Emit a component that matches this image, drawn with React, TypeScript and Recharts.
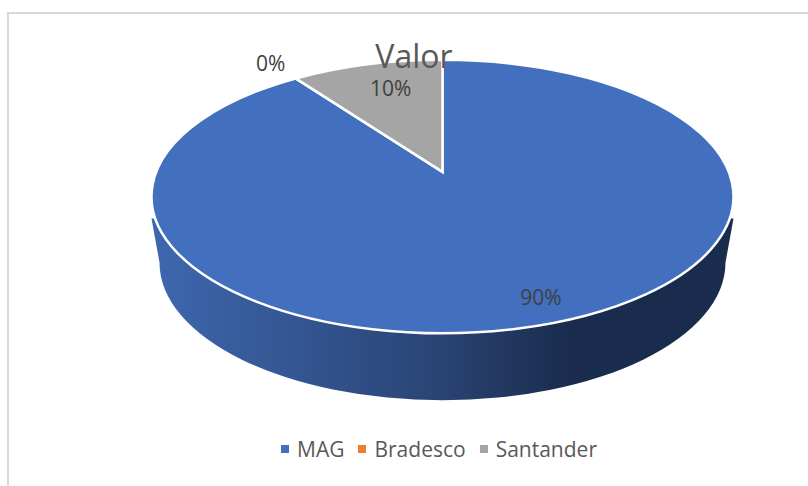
import { Cell, Legend, Pie, PieChart } from "recharts"

const names = ["MAG", "Bradesco", "Santander"]
const values = [90, 0, 10]
const colors = ["#4270BE", "#ED7D31", "#A5A5A5"]
const title = "Valor"

// where each percent label sits: radius as a fraction of the rim, and a small turn in degrees
const LABEL_RADII = [0.86, 1.2, 0.74]
const LABEL_TURNS = [-2, 0, 2]

const FONT = "'Open Sans', sans-serif"
const TEXT = "#595959"
const SQUASH = 0.47 // ry / rx of the top face
const TILT = 0.18 // perspective: the centre of the disc sits above the middle of the ellipse
const DEPTH = 66
const BOTTOM_RX = 283

const data = names.map((name, i) => ({ name, value: values[i] }))

// Point on the tilted disc. theta is clockwise from 12 o'clock, r is a fraction of the radius.
function project(cx: number, cy: number, rx: number, theta: number, r = 1) {
  const rad = (theta * Math.PI) / 180
  const s = Math.sin(rad) * r
  const c = Math.cos(rad) * r
  const d = 1 + TILT * c
  const u = (s * Math.sqrt(1 - TILT * TILT)) / d
  const v = (c + TILT) / d
  return { x: cx + rx * u, y: cy - rx * SQUASH * v }
}

function TiltedSector(props: any) {
  const { cx, cy, outerRadius: rx, startAngle, endAngle, fill } = props
  const from = 90 - startAngle
  const to = 90 - endAngle
  if (to - from <= 0) return null

  const ry = rx * SQUASH
  const apex = project(cx, cy, rx, 0, 0)
  const a = project(cx, cy, rx, from)
  const b = project(cx, cy, rx, to)
  const large = to - from > 180 ? 1 : 0
  const facesFront = from < 180 && to > 180

  return (
    <g>
      {facesFront && (
        <path
          d={`M${cx - rx},${cy + 22} L${cx - BOTTOM_RX},${cy + DEPTH}
              A${BOTTOM_RX},${ry + 1} 0 0 0 ${cx + BOTTOM_RX},${cy + DEPTH}
              L${cx + rx},${cy + 22} Z`}
          fill="url(#wall)"
        />
      )}
      <path
        d={`M${apex.x},${apex.y} L${a.x},${a.y} A${rx},${ry} 0 ${large} 1 ${b.x},${b.y} Z`}
        fill={fill}
        stroke="#fff"
        strokeWidth={2.5}
        strokeLinejoin="miter"
      />
    </g>
  )
}

function PercentLabel(props: any) {
  const { cx, cy, outerRadius, midAngle, percent, index } = props
  const p = project(cx, cy, outerRadius, 90 - midAngle + LABEL_TURNS[index], LABEL_RADII[index])
  return (
    <text x={p.x} y={p.y} textAnchor="middle" dominantBaseline="central" fontFamily={FONT} fontSize={21} fill="#404040">
      {`${Math.round(percent * 100)}%`}
    </text>
  )
}

function LegendRow() {
  return (
    <div style={{ display: "flex", justifyContent: "center", fontFamily: FONT, fontSize: 21, color: TEXT, lineHeight: "28px" }}>
      {names.map((name, i) => (
        <span key={name} style={{ display: "flex", alignItems: "center", marginLeft: i === 0 ? 0 : 14 }}>
          <span style={{ width: 8, height: 8, background: colors[i], marginRight: 8 }} />
          {name}
        </span>
      ))}
    </div>
  )
}

export default function App() {
  return (
    <div style={{ position: "fixed", left: 0, top: 0, width: 808, height: 486, background: "#fff", overflow: "hidden" }}>
      <div style={{ position: "absolute", left: 7, top: 12, right: 0, bottom: 0, borderTop: "2px solid #d9d9d9", borderLeft: "2px solid #d9d9d9" }} />
      <PieChart width={808} height={486} margin={{ top: 0, right: 0, bottom: 0, left: 0 }} style={{ position: "absolute", left: 0, top: 0 }}>
        <defs>
          <linearGradient id="wall" gradientUnits="userSpaceOnUse" x1={155} x2={730} y1={0} y2={0}>
            <stop offset="0" stopColor="#3D67AE" />
            <stop offset="0.5" stopColor="#2A4373" />
            <stop offset="0.72" stopColor="#1A2C4E" />
            <stop offset="1" stopColor="#1A2C4E" />
          </linearGradient>
        </defs>
        <Pie
          data={data}
          dataKey="value"
          nameKey="name"
          cx={442.5}
          cy={196.5}
          outerRadius={291}
          startAngle={90}
          endAngle={-270}
          stroke="none"
          shape={TiltedSector}
          label={PercentLabel}
          labelLine={false}
          isAnimationActive={false}
        >
          {names.map((name, i) => (
            <Cell key={name} fill={colors[i]} />
          ))}
        </Pie>
        <Legend content={<LegendRow />} wrapperStyle={{ left: 0, width: 878, top: 435 }} />
      </PieChart>
      {/* the title overlaps the pie in the original, so it goes above the chart */}
      <div style={{ position: "absolute", left: 314, width: 200, top: 34, textAlign: "center", fontFamily: FONT, fontSize: 32, lineHeight: "44px", color: TEXT }}>
        {title}
      </div>
    </div>
  )
}
